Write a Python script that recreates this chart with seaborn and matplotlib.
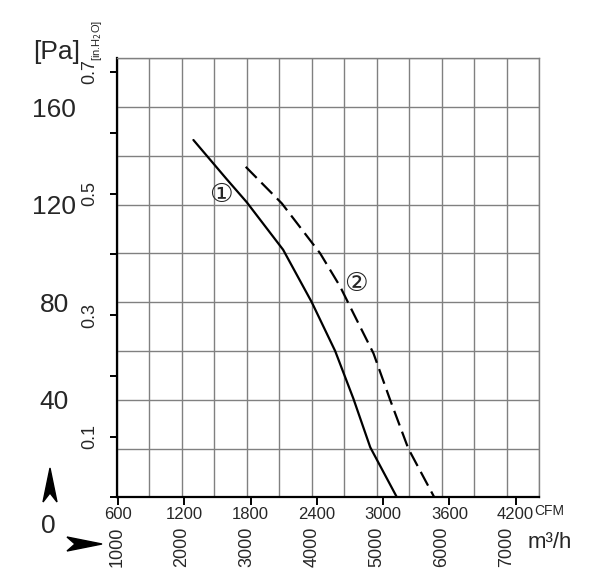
import matplotlib.pyplot as plt
import matplotlib.patches as mpatches
import numpy as np
import pandas as pd
import seaborn as sns
from matplotlib import font_manager

# Kennlinien (Volumenstrom m3/h, Druck Pa)
flow_1 = [2180, 2690, 3000, 3560, 4000, 4360, 4640, 4900, 5310]
pres_1 = [146.5, 130.5, 121, 101.5, 80, 60, 40.5, 20.5, 0]
flow_2 = [2985, 3540, 3900, 4130, 4435, 4640, 4950, 5205, 5485, 5885]
pres_2 = [135.5, 120.5, 108, 100, 86.5, 75.5, 59, 40, 20, 0]

pa_ticks = [40, 80, 120, 160]
inh2o_ticks = [0.0, 0.1, 0.2, 0.3, 0.4, 0.5, 0.6, 0.7]
inh2o_labels = ['', '0.1', '', '0.3', '', '0.5', '', '0.7']
cfm_ticks = [600, 1200, 1800, 2400, 3000, 3600, 4200]
m3h_ticks = [1000, 2000, 3000, 4000, 5000, 6000, 7000]

sns.set_style('white')
names = {f.name for f in font_manager.fontManager.ttflist}
narrow = 'Liberation Sans Narrow' if 'Liberation Sans Narrow' in names else 'Liberation Sans'
plt.rcParams['font.family'] = [narrow, 'DejaVu Sans']

fig = plt.figure(figsize=(6, 5.86), dpi=100)
ax = fig.add_axes([0.1945, 0.1514, 0.7043, 0.7491])

df1 = pd.DataFrame({'flow': flow_1, 'pres': pres_1})
df2 = pd.DataFrame({'flow': flow_2, 'pres': pres_2})
sns.lineplot(data=df1, x='flow', y='pres', ax=ax, color='black', lw=1.6, sort=False)
sns.lineplot(data=df2, x='flow', y='pres', ax=ax, color='black', lw=1.6, sort=False)
ax.lines[-1].set_dashes((7, 3))

ax.set_xlim(1000, 7500)
ax.set_ylim(0, 180)
ax.set_xlabel('')
ax.set_ylabel('')

# Pa + m3/h Beschriftung
ax.set_yticks(pa_ticks)
ax.set_yticklabels([str(t) for t in pa_ticks], fontsize=19, ha='center')
ax.tick_params(axis='y', which='major', length=0, pad=45)
ax.set_xticks(m3h_ticks)
ax.set_xticklabels([str(t) for t in m3h_ticks], fontsize=13, rotation=90, va='top')
ax.tick_params(axis='x', which='major', length=0, pad=21)

# Gitter (alle 500 m3/h bzw. 20 Pa)
ax.set_xticks(np.arange(1000, 7501, 500), minor=True)
ax.set_yticks(np.arange(0, 181, 20), minor=True)
ax.grid(which='both', color='#808080', lw=1)
ax.tick_params(which='minor', length=0)
ax.set_axisbelow(True)

for s in ['top', 'right']:
    ax.spines[s].set_color('#808080')
    ax.spines[s].set_linewidth(1)
for s in ['left', 'bottom']:
    ax.spines[s].set_color('black')
    ax.spines[s].set_linewidth(1.6)

# in.H2O Achse
sec_y = ax.secondary_yaxis('left', functions=(lambda p: p / 249.09, lambda w: w * 249.09))
sec_y.set_yticks(inh2o_ticks)
sec_y.set_yticklabels(inh2o_labels, rotation=90, va='center', fontsize=13)
sec_y.tick_params(length=5, width=1.4, pad=8, color='black')
sec_y.spines['left'].set_visible(False)

# CFM Achse
sec_x = ax.secondary_xaxis('bottom', functions=(lambda m: m / 1.699, lambda c: c * 1.699))
sec_x.set_xticks(cfm_ticks)
sec_x.set_xticklabels([str(t) for t in cfm_ticks], fontsize=12)
sec_x.tick_params(length=6, width=1.4, pad=1, color='black')
sec_x.spines['bottom'].set_visible(False)

# Kurvennummern
ax.text(2600, 124, '\u2460', fontsize=19, ha='center', va='center', family=['DejaVu Sans'])
ax.text(4682, 87.3, '\u2461', fontsize=19, ha='center', va='center', family=['DejaVu Sans'])

W, H = 600, 586
fig.text(57 / W, 1 - 52 / H, '[Pa]', fontsize=19, ha='center', va='center')
fig.text(97 / W, 1 - 40 / H, '[in.H$_2$O]', fontsize=8, rotation=90, ha='center', va='center')
fig.text(48 / W, 1 - 526 / H, '0', fontsize=19, ha='center', va='center')
fig.text(534 / W, 1 - 511 / H, 'CFM', fontsize=10, ha='left', va='center')
fig.text(528 / W, 1 - 543 / H, 'm\u00b3/h', fontsize=16, ha='left', va='center')

# Pfeile
up = [(50, 468), (57, 502), (50, 493), (43, 502)]
right = [(102, 544), (67, 551), (75, 544), (67, 537)]
for pts in (up, right):
    fig.patches.append(mpatches.Polygon([(x / W, 1 - y / H) for x, y in pts], closed=True,
                                        transform=fig.transFigure, color='black', figure=fig))

plt.savefig('out.png', dpi=100)
